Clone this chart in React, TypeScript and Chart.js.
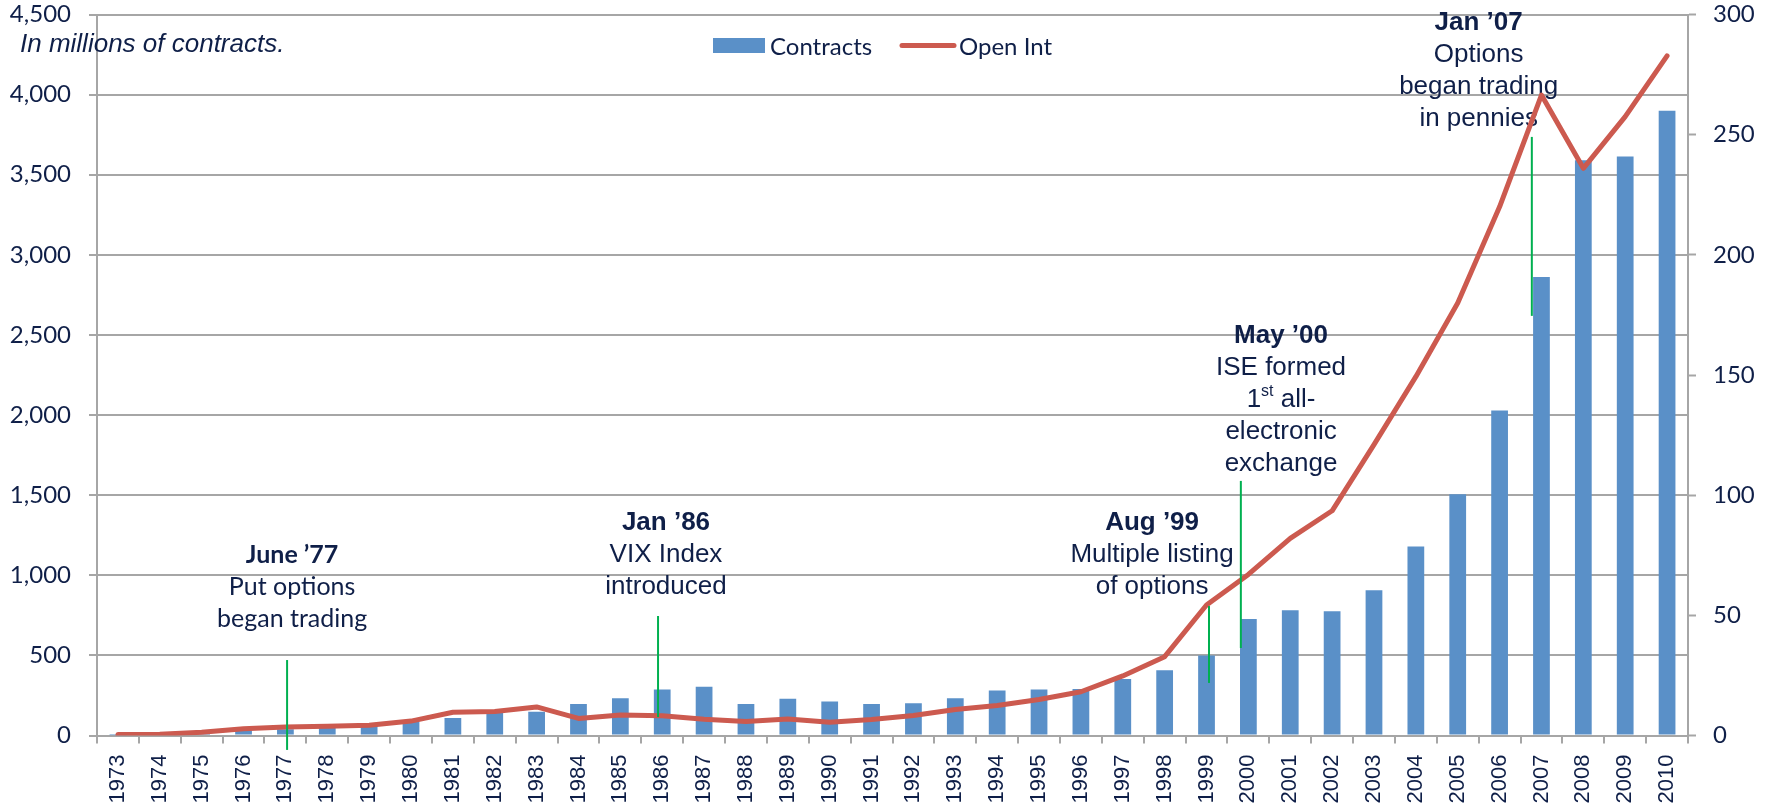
import React, { useEffect, useRef } from 'react';
import { Chart, registerables } from 'chart.js';

Chart.register(...registerables);

// ---------- data ----------
const years = [
  '1973', '1974', '1975', '1976', '1977', '1978', '1979', '1980', '1981', '1982',
  '1983', '1984', '1985', '1986', '1987', '1988', '1989', '1990', '1991', '1992',
  '1993', '1994', '1995', '1996', '1997', '1998', '1999', '2000', '2001', '2002',
  '2003', '2004', '2005', '2006', '2007', '2008', '2009', '2010',
];

// Contracts traded, millions (left axis)
const contracts = [
  1.1, 5.7, 18, 32, 39, 57, 64, 97, 109, 140,
  149, 197, 233, 287, 304, 196, 229, 212, 196, 202,
  233, 281, 287, 291, 353, 407, 500, 727, 782, 776,
  906, 1180, 1506, 2028, 2861, 3590, 3614, 3900,
];

// Open interest, millions (right axis)
const openInterest = [
  0.4, 0.5, 1.4, 2.8, 3.5, 3.8, 4.3, 6.0, 9.7, 10.0,
  11.9, 7.1, 8.5, 8.2, 6.8, 5.8, 6.9, 5.5, 6.7, 8.3,
  10.8, 12.5, 15.0, 18.2, 24.8, 32.8, 54.3, 67, 82, 93.5,
  121, 149.3, 180, 220, 266.5, 236, 257.5, 282.8,
];

const leftAxisMax = 4500;
const leftAxisStep = 500;
const rightAxisMax = 300;
const rightAxisStep = 50;

const seriesNames = ['Contracts', 'Open Int'];
const subtitle = 'In millions of contracts.';

// event markers (green lines)
const markerYears = ['1977', '1986', '1999', '2000', '2007'];
const markerShift = [0.04, -0.1, 0.06, -0.18, -0.23]; // fraction of a category
const markerTop = [471, 746, 808, 1589, 3736]; // left-axis values
const markerBottom = [-90, 115, 328, 546, 2619];

// event notes
const noteTitles = ['June ’77', 'Jan ’86', 'Aug ’99', 'May ’00', 'Jan ’07'];
const noteLines = [
  ['Put options', 'began trading'],
  ['VIX Index', 'introduced'],
  ['Multiple listing', 'of options'],
  ['ISE formed', '1|st| all-', 'electronic', 'exchange'],
  ['Options', 'began trading', 'in pennies'],
];
const noteYears = ['1977', '1986', '1999', '2000', '2007'];
const noteShift = [0.16, 0.09, -1.3, 0.78, -1.5];
const noteTop = [1127, 1326, 1326, 2494, 4448];

// ---------- styles ----------
const TEXT = '#0f1f48';
const GRID = '#a6a6a6';
const BAR = '#5a90c8';
const LINE = '#cc5a4f';
const GREEN = '#00b050';
const CAL = 'Lato, "Open Sans", sans-serif';
const ARIAL = '"Liberation Sans", Arial, sans-serif';

const notesPlugin = {
  id: 'notesPlugin',
  beforeDatasetsDraw(chart: any) {
    const { ctx, scales } = chart;
    const x = scales.x;
    const y = scales.y;
    const cw = x.width / years.length;
    ctx.save();
    ctx.fillStyle = TEXT;

    // subtitle
    ctx.font = 'italic 26px ' + ARIAL;
    ctx.textAlign = 'left';
    ctx.textBaseline = 'alphabetic';
    ctx.fillText(subtitle, 20, 52);

    // legend
    ctx.fillStyle = BAR;
    ctx.fillRect(713, 38, 52, 15);
    ctx.strokeStyle = LINE;
    ctx.lineWidth = 5;
    ctx.lineCap = 'round';
    ctx.beginPath();
    ctx.moveTo(902, 45.5);
    ctx.lineTo(954, 45.5);
    ctx.stroke();
    ctx.fillStyle = TEXT;
    ctx.font = '24px ' + CAL;
    ctx.textBaseline = 'middle';
    ctx.fillText(seriesNames[0], 770, 47);
    ctx.fillText(seriesNames[1], 959, 47);

    // notes
    noteTitles.forEach((title, i) => {
      const cx = x.getPixelForValue(years.indexOf(noteYears[i])) + noteShift[i] * cw;
      let cy = y.getPixelForValue(noteTop[i]);
      const isCal = i === 0;
      const fam = isCal ? CAL : ARIAL;
      const size = isCal ? 25 : 26;
      ctx.textAlign = 'center';
      ctx.textBaseline = 'middle';
      ctx.font = 'bold ' + size + 'px ' + fam;
      ctx.fillText(title, cx, cy);
      noteLines[i].forEach((line) => {
        cy += 32;
        if (line.includes('|')) {
          const parts = line.split('|');
          const big = size + 'px ' + fam;
          const small = '16px ' + fam;
          ctx.font = big;
          const w0 = ctx.measureText(parts[0]).width;
          const w2 = ctx.measureText(parts[2]).width;
          ctx.font = small;
          const w1 = ctx.measureText(parts[1]).width;
          let sx = cx - (w0 + w1 + w2) / 2;
          ctx.textAlign = 'left';
          ctx.font = big;
          ctx.fillText(parts[0], sx, cy);
          sx += w0;
          ctx.font = small;
          ctx.fillText(parts[1], sx, cy - 8);
          sx += w1;
          ctx.font = big;
          ctx.fillText(parts[2], sx, cy);
          ctx.textAlign = 'center';
        } else {
          ctx.font = size + 'px ' + fam;
          ctx.fillText(line, cx, cy);
        }
      });
    });
    ctx.restore();
  },
  afterDatasetsDraw(chart: any) {
    const { ctx, scales } = chart;
    const x = scales.x;
    const y = scales.y;
    const cw = x.width / years.length;
    ctx.save();
    ctx.strokeStyle = GREEN;
    ctx.lineWidth = 2;
    markerYears.forEach((yr, i) => {
      const px = x.getPixelForValue(years.indexOf(yr)) + markerShift[i] * cw;
      ctx.beginPath();
      ctx.moveTo(px, y.getPixelForValue(markerTop[i]));
      ctx.lineTo(px, y.getPixelForValue(markerBottom[i]));
      ctx.stroke();
    });
    ctx.restore();
  },
};

const fitVertical = (w: number) => (s: any) => {
  s.width = w;
  s.paddingTop = 0;
  s.paddingBottom = 0;
};

export default function App() {
  const canvasRef = useRef<HTMLCanvasElement | null>(null);

  useEffect(() => {
    if (!canvasRef.current) return;
    const chart = new Chart(canvasRef.current, {
      type: 'bar',
      data: {
        labels: years,
        datasets: [
          {
            type: 'bar',
            label: seriesNames[0],
            data: contracts,
            backgroundColor: BAR,
            borderWidth: 0,
            barPercentage: 0.4,
            categoryPercentage: 1,
            yAxisID: 'y',
            order: 2,
          } as any,
          {
            type: 'line',
            label: seriesNames[1],
            data: openInterest,
            borderColor: LINE,
            backgroundColor: LINE,
            borderWidth: 5,
            pointRadius: 0,
            tension: 0,
            borderJoinStyle: 'round',
            borderCapStyle: 'round',
            yAxisID: 'y1',
            order: 1,
          } as any,
        ],
      },
      options: {
        responsive: false,
        animation: false,
        layout: { padding: { top: 14.5, left: 0, right: 0, bottom: 0 } },
        plugins: {
          legend: { display: false },
          tooltip: { enabled: false },
        },
        scales: {
          x: {
            grid: {
              drawOnChartArea: false,
              drawTicks: true,
              tickLength: 8,
              tickColor: GRID,
              tickWidth: 2,
              color: GRID,
              lineWidth: 2,
            },
            border: { color: GRID, width: 2 },
            ticks: {
              color: TEXT,
              font: { family: ARIAL, size: 22 },
              minRotation: 90,
              maxRotation: 90,
              autoSkip: false,
              padding: 11,
            },
            afterFit: (s: any) => {
              s.height = 74.5;
              s.paddingLeft = 0;
              s.paddingRight = 0;
            },
          },
          y: {
            position: 'left',
            min: 0,
            max: leftAxisMax,
            grid: {
              color: GRID,
              lineWidth: 2,
              tickLength: 8,
              tickColor: GRID,
              tickWidth: 2,
            },
            border: { color: GRID, width: 2 },
            ticks: {
              stepSize: leftAxisStep,
              color: TEXT,
              font: { family: CAL, size: 24 },
              padding: 18,
            },
            afterFit: fitVertical(97),
          },
          y1: {
            position: 'right',
            min: 0,
            max: rightAxisMax,
            grid: {
              drawOnChartArea: false,
              tickLength: 8,
              tickColor: GRID,
              tickWidth: 2,
              color: GRID,
            },
            border: { color: GRID, width: 2 },
            ticks: {
              stepSize: rightAxisStep,
              color: TEXT,
              font: { family: CAL, size: 24 },
              padding: 17,
            },
            afterFit: fitVertical(83),
          },
        },
      } as any,
      plugins: [notesPlugin],
    });
    return () => chart.destroy();
  }, []);

  return (
    <div style={{ position: 'fixed', left: 0, top: 0, width: 1771, height: 810, background: '#fff' }}>
      <canvas ref={canvasRef} width={1771} height={810} style={{ display: 'block' }} />
    </div>
  );
}
